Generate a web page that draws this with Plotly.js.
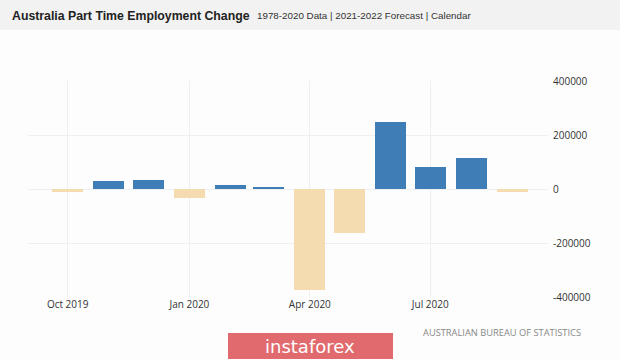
<!DOCTYPE html>
<html>
<head>
<meta charset="utf-8">
<script src="https://cdn.plot.ly/plotly-3.0.1.min.js"></script>
<style>
html,body{margin:0;padding:0;background:#fdfdfd;}
#chart{width:620px;height:361px;}
</style>
</head>
<body>
<div id="chart"></div>
<script>
const months = ["2019-10-01","2019-11-01","2019-12-01","2020-01-01","2020-02-01","2020-03-01",
                "2020-04-01","2020-05-01","2020-06-01","2020-07-01","2020-08-01","2020-09-01"];
const changes = [-11700, 28500, 32000, -34500, 15000, 8500,
                 -374000, -163000, 250000, 80000, 116000, -10000];
const tickDates = ["2019-10-01","2020-01-01","2020-04-01","2020-07-01"];
const tickLabels = ["Oct 2019","Jan 2020","Apr 2020","Jul 2020"];
const yTicks = [-400000,-200000,0,200000,400000];
const yTickLabels = ["-400000","-200000","0","200000","400000"];

const posColor = "#3f7db7";
const negColor = "#f5dbb0";
const barColors = changes.map(v => v >= 0 ? posColor : negColor);

const trace = {
  type: "bar",
  x: months,
  y: changes,
  width: months.map(() => 23.4*86400000),
  marker: {color: barColors, line: {width: 0}},
  hoverinfo: "x+y"
};

const W = 620, H = 361, ml = 28, mr = 72, mt = 81, mb = 64;
const pw = W - ml - mr, ph = H - mt - mb;
const px = x => (x - ml) / pw;
const py = y => 1 - (y - mt) / ph;

const layout = {
  width: W, height: H,
  margin: {l: ml, r: mr, t: mt, b: mb, pad: 0},
  paper_bgcolor: "#fdfdfd",
  plot_bgcolor: "#fdfdfd",
  showlegend: false,
  bargap: 0,
  font: {family: "Open Sans, sans-serif", size: 10, color: "#333"},
  xaxis: {
    type: "date",
    range: ["2019-09-01", "2020-09-28"],
    tickvals: tickDates,
    ticktext: tickLabels,
    showgrid: true,
    gridcolor: "#efefef",
    gridwidth: 1,
    zeroline: false,
    showline: false,
    ticks: "",
    tickfont: {family: "Open Sans, sans-serif", size: 10, color: "#333"},
    fixedrange: true
  },
  yaxis: {
    side: "right",
    range: [-400000, 400000],
    tickvals: yTicks,
    ticktext: yTickLabels,
    showgrid: true,
    gridcolor: "#efefef",
    gridwidth: 1,
    zeroline: false,
    showline: false,
    ticks: "",
    ticklabelstandoff: 4,
    tickfont: {family: "Open Sans, sans-serif", size: 10, color: "#333"},
    fixedrange: true
  },
  shapes: [
    {type: "rect", xref: "paper", yref: "paper", x0: px(0), x1: px(620), y0: py(0), y1: py(30),
     fillcolor: "#f2f2f2", line: {width: 0}, layer: "below"},
    {type: "rect", xref: "paper", yref: "paper", x0: px(228), x1: px(393), y0: py(333), y1: py(359),
     fillcolor: "#e06a6e", line: {width: 0}, layer: "above"}
  ],
  annotations: [
    {xref: "paper", yref: "paper", x: px(10), y: py(16), xanchor: "left", yanchor: "middle",
     text: "<b>Australia Part Time Employment Change</b>", showarrow: false,
     font: {family: "Liberation Sans, Arial, sans-serif", size: 12.3, color: "#222"}},
    {xref: "paper", yref: "paper", x: px(255), y: py(16), xanchor: "left", yanchor: "middle",
     text: "1978-2020 Data | 2021-2022 Forecast | Calendar", showarrow: false,
     font: {family: "Liberation Sans, Arial, sans-serif", size: 9.8, color: "#333"}},
    {xref: "paper", yref: "paper", x: px(583), y: py(332), xanchor: "right", yanchor: "middle",
     text: "AUSTRALIAN BUREAU OF STATISTICS", showarrow: false,
     font: {family: "Open Sans, sans-serif", size: 9.3, color: "#888"}},
    {xref: "paper", yref: "paper", x: px(310), y: py(346), xanchor: "center", yanchor: "middle",
     text: "instaforex", showarrow: false,
     font: {family: "DejaVu Sans, sans-serif", size: 18, color: "#ffffff"}}
  ]
};

Plotly.newPlot("chart", [trace], layout, {displayModeBar: false, staticPlot: true});
</script>
</body>
</html>
